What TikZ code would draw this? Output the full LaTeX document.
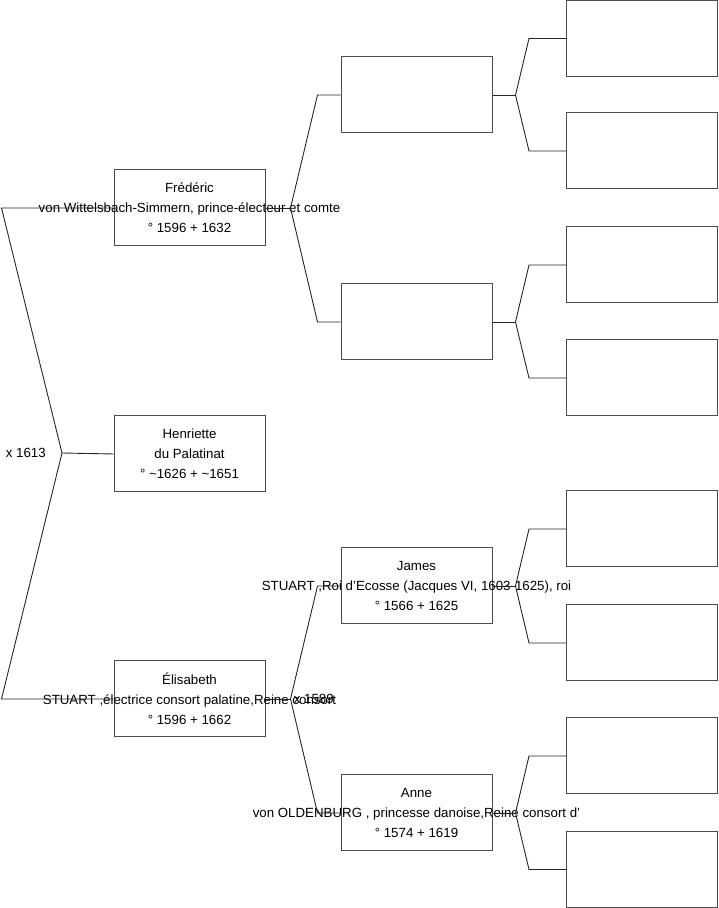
\documentclass[tikz,border=0pt]{standalone}
\usepackage{fontspec}
\setmainfont{Liberation Sans}
\usetikzlibrary{calc}
\tikzset{
    treebox/.style={draw=black!70, line width=1pt, minimum width=151pt, minimum height=76pt, inner sep=0pt},
    treetext/.style={align=center, font=\fontsize{13.3}{20}\selectfont, inner sep=0pt},
    treeline/.style={draw=black!85, line width=0.9pt},
    treenote/.style={font=\fontsize{13.3}{15}\selectfont, inner sep=0pt}
}

\begin{document}
\begin{tikzpicture}[x=1pt, y=1pt]
    \useasboundingbox (0,0) rectangle (719,908);

    % generation 1
    \node[treebox] (fred) at (189.5,700) {};
    \node[treebox] (henr) at (189.5,454) {};
    \node[treebox] (elis) at (189.5,209) {};
    \node[treetext] (fredt) at (fred) {Frédéric\\von Wittelsbach-Simmern, prince-électeur et comte\\° 1596 + 1632};
    \node[treetext] (henrt) at (henr) {Henriette\\du Palatinat\\° \textasciitilde1626 + \textasciitilde1651};
    \node[treetext] (elist) at (elis) {Élisabeth\\STUART ,électrice consort palatine,Reine consort\\° 1596 + 1662};

    % generation 2
    \node[treebox] (ff) at (416.5,813) {};
    \node[treebox] (fm) at (416.5,586) {};
    \node[treebox] (jas) at (416.5,322) {};
    \node[treebox] (ann) at (416.5,95) {};
    \node[treetext] (jast) at (jas) {James\\STUART ,Roi d'Ecosse (Jacques VI, 1603-1625), roi\\° 1566 + 1625};
    \node[treetext] (annt) at (ann) {Anne\\von OLDENBURG , princesse danoise,Reine consort d'\\° 1574 + 1619};

    % generation 3
    \node[treebox] (fff) at (642,869.5) {};
    \node[treebox] (ffm) at (642,757) {};
    \node[treebox] (fmf) at (642,643) {};
    \node[treebox] (fmm) at (642,530) {};
    \node[treebox] (jf) at (642,379) {};
    \node[treebox] (jm) at (642,265) {};
    \node[treebox] (af) at (642,152) {};
    \node[treebox] (am) at (642,38.5) {};

    % marriages
    \coordinate (root) at (62,455);
    \node[treenote, anchor=east] (root-x) at (46,455) {x 1613};
    \node[treenote, anchor=east] (elis-x) at (334,209) {x 1589};

    \draw[treeline] (root) -- (henr.west);
    \draw[treeline] (root) -- ($(fred.west)+(-112,0)$) -- (fred.west);
    \draw[treeline] (root) -- ($(elis.west)+(-112,0)$) -- (elis.west);

    \draw[treeline] (fred.east) -- ++(25,0) coordinate (fredj);
    \draw[treeline] (fredj) -- ($(ff.west)+(-23,0)$) -- (ff.west);
    \draw[treeline] (fredj) -- ($(fm.west)+(-23,0)$) -- (fm.west);
    \draw[treeline] (elis.east) -- ++(25,0) coordinate (elisj);
    \draw[treeline] (elisj) -- ($(jas.west)+(-23,0)$) -- (jas.west);
    \draw[treeline] (elisj) -- ($(ann.west)+(-23,0)$) -- (ann.west);

    \draw[treeline] (ff.east) -- ++(23,0) coordinate (ffj);
    \draw[treeline] (ffj) -- ($(fff.west)+(-37,0)$) -- (fff.west);
    \draw[treeline] (ffj) -- ($(ffm.west)+(-37,0)$) -- (ffm.west);
    \draw[treeline] (fm.east) -- ++(23,0) coordinate (fmj);
    \draw[treeline] (fmj) -- ($(fmf.west)+(-37,0)$) -- (fmf.west);
    \draw[treeline] (fmj) -- ($(fmm.west)+(-37,0)$) -- (fmm.west);
    \draw[treeline] (jas.east) -- ++(23,0) coordinate (jasj);
    \draw[treeline] (jasj) -- ($(jf.west)+(-37,0)$) -- (jf.west);
    \draw[treeline] (jasj) -- ($(jm.west)+(-37,0)$) -- (jm.west);
    \draw[treeline] (ann.east) -- ++(23,0) coordinate (annj);
    \draw[treeline] (annj) -- ($(af.west)+(-37,0)$) -- (af.west);
    \draw[treeline] (annj) -- ($(am.west)+(-37,0)$) -- (am.west);
\end{tikzpicture}
\end{document}
